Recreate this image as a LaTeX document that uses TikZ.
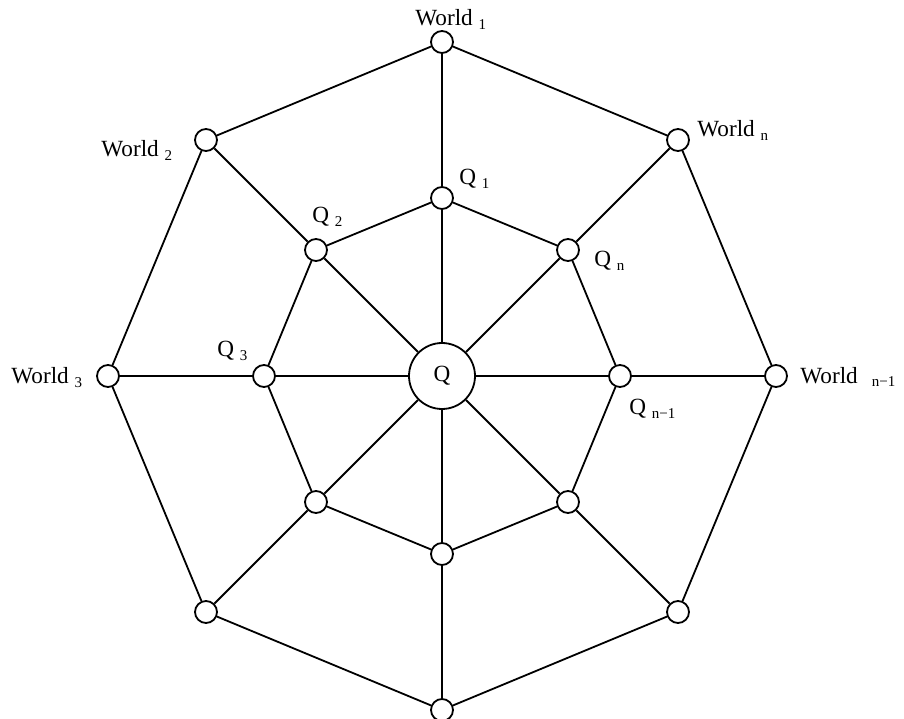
\documentclass[tikz,border=0pt,11pt]{standalone}
\usepackage{fontspec}
\setmainfont{Liberation Serif}
\usetikzlibrary{positioning}
\newcommand{\idx}[1]{\raisebox{-2pt}{\fontsize{7.5}{8}\selectfont #1}}

\begin{document}
\begin{tikzpicture}[x=0.5pt,y=0.5pt,
      font=\fontsize{11.6}{14}\selectfont,
      vtx/.style={circle, draw, line width=0.9pt, minimum size=11pt, inner sep=0pt, fill=white},
      hub/.style={circle, draw, line width=0.9pt, minimum size=33pt, inner sep=0pt, fill=white},
      lbl/.style={anchor=base west, inner sep=0pt},
      edge/.style={line width=0.9pt}]
    \useasboundingbox (0,0) rectangle (904,718);
    % centre
    \node[hub] (q) at (442,342) {Q};
    % inner ring
    \node[vtx] (q1) at (442,520) {};
    \node[vtx] (q2) at (316,468) {};
    \node[vtx] (q3) at (264,342) {};
    \node[vtx] (q4) at (316,216) {};
    \node[vtx] (q5) at (442,164) {};
    \node[vtx] (q6) at (568,216) {};
    \node[vtx] (q7) at (620,342) {};
    \node[vtx] (q8) at (568,468) {};
    % outer ring
    \node[vtx] (w1) at (442,676) {};
    \node[vtx] (w2) at (206,578) {};
    \node[vtx] (w3) at (108,342) {};
    \node[vtx] (w4) at (206,106) {};
    \node[vtx] (w5) at (442,8)   {};
    \node[vtx] (w6) at (678,106) {};
    \node[vtx] (w7) at (776,342) {};
    \node[vtx] (w8) at (678,578) {};
    % labels
    \node[lbl] (lw1) at (415,692) {World \idx{1}};
    \node[lbl] (lw2) at (101,561) {World \idx{2}};
    \node[lbl] (lw3) at (11,334)  {World \idx{3}};
    \node[lbl] (lw7) at (800,335) {World\hspace{7pt}\idx{n−1}};
    \node[lbl] (lw8) at (697,581) {World \idx{n}};
    \node[lbl] (lq1) at (459,533) {Q \idx{1}};
    \node[lbl] (lq2) at (312,495) {Q \idx{2}};
    \node[lbl] (lq3) at (217,361) {Q \idx{3}};
    \node[lbl] (lq7) at (629,303) {Q \idx{n−1}};
    \node[lbl] (lq8) at (594,451) {Q \idx{n}};
    % spokes and rings
    \foreach \i in {1,...,8} {
      \draw[edge] (q) -- (q\i);
      \draw[edge] (q\i) -- (w\i);
    }
    \foreach \i/\j in {1/2,2/3,3/4,4/5,5/6,6/7,7/8,8/1} {
      \draw[edge] (q\i) -- (q\j);
      \draw[edge] (w\i) -- (w\j);
    }
  \end{tikzpicture}
\end{document}
